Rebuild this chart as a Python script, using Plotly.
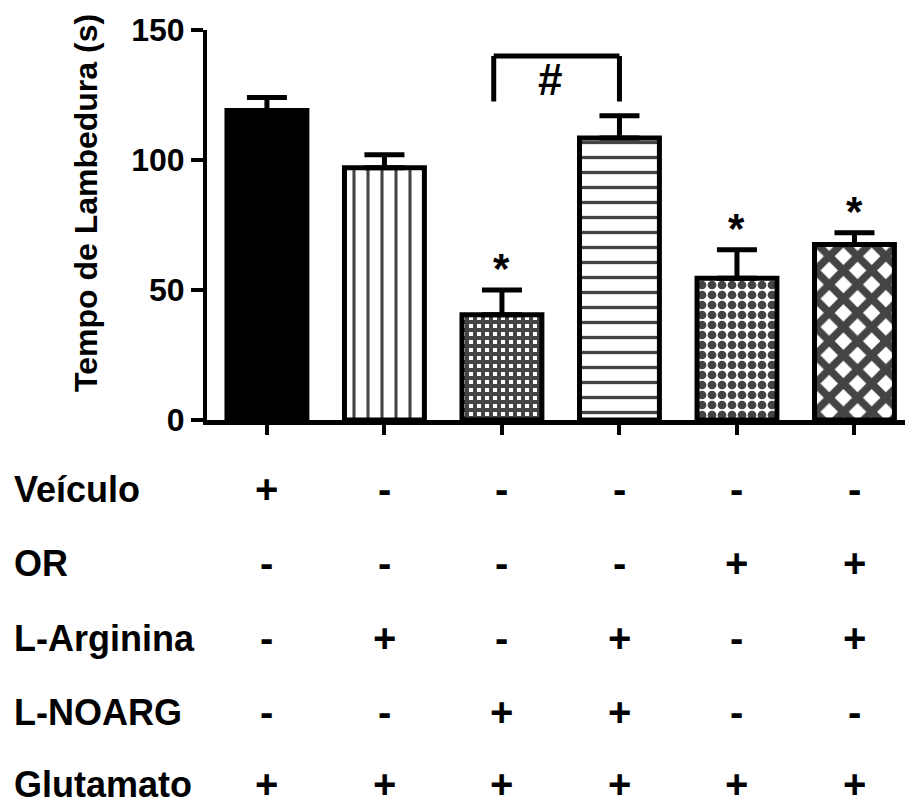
import plotly.graph_objects as go

groups = ["G1", "G2", "G3", "G4", "G5", "G6"]
means = [119, 97, 40.5, 108.5, 54.5, 67.5]
sems = [5, 5, 9.5, 8.5, 11, 4.5]
stars = ["", "", "*", "", "*", "*"]

row_labels = ["Veículo", "OR", "L-Arginina", "L-NOARG", "Glutamato"]
row_signs = [
    ["+", "-", "-", "-", "-", "-"],
    ["-", "-", "-", "-", "+", "+"],
    ["-", "+", "-", "+", "-", "+"],
    ["-", "-", "+", "+", "-", "-"],
    ["+", "+", "+", "+", "+", "+"],
]

pattern_shapes = ["", "|", "+", "-", ".", "x"]
pattern_sizes = [8, 14, 8, 15, 10, 20]
pattern_solid = [0.3, 0.22, 0.75, 0.22, 0.6, 0.62]
fill_colors = ["black", "white", "white", "white", "white", "white"]

FONT = "Arial, Liberation Sans, sans-serif"

fig = go.Figure()
fig.add_trace(go.Bar(
    x=list(range(len(groups))), y=means, width=0.68,
    marker=dict(
        color=fill_colors,
        line=dict(color="black", width=5),
        pattern=dict(shape=pattern_shapes, size=pattern_sizes, solidity=pattern_solid,
                     fgcolor="black", fgopacity=1, fillmode="overlay"),
    ),
    error_y=dict(type="data", symmetric=False, array=sems, arrayminus=[0] * 6,
                 color="black", thickness=5, width=20),
    showlegend=False,
))

# plot area geometry (pixels)
plot_top, plot_bottom = 30, 420
plot_h = plot_bottom - plot_top
plot_left, plot_right = 207, 905
plot_w = plot_right - plot_left

ann = []
for i, s in enumerate(stars):
    if s:
        ann.append(dict(x=i, y=means[i] + sems[i], xref="x", yref="y", text=s,
                        showarrow=False, yanchor="bottom", yshift=-4,
                        font=dict(family=FONT, size=42, color="black", weight="bold")))

# bracket between group 3 and 4
br_left, br_right, br_top, br_bot = 1.93, 3.0, 140, 122.5
for (x0, x1, y0, y1) in [(br_left, br_left, br_bot, br_top),
                         (br_left, br_right, br_top, br_top),
                         (br_right, br_right, br_bot, br_top)]:
    fig.add_shape(type="line", x0=x0, x1=x1, y0=y0, y1=y1, xref="x", yref="y",
                  line=dict(color="black", width=5))
ann.append(dict(x=(br_left + br_right) / 2 - 0.06, y=131, xref="x", yref="y", text="#",
                showarrow=False, font=dict(family=FONT, size=44, color="black", weight="bold")))

# y-axis title
ann.append(dict(x=(86 - plot_left) / plot_w, y=(plot_bottom - 203) / plot_h, xref="paper", yref="paper",
                text="Tempo de Lambedura (s)", textangle=-90, showarrow=False,
                xanchor="center", yanchor="middle",
                font=dict(family=FONT, size=32, color="black", weight="bold")))

# table below
row_py = [489, 563, 638, 712, 784]
for r, lab in enumerate(row_labels):
    yp = (plot_bottom - row_py[r]) / plot_h
    ann.append(dict(x=(12 - plot_left) / plot_w, y=yp, xref="paper", yref="paper", text=lab,
                    showarrow=False, xanchor="left", yanchor="middle",
                    font=dict(family=FONT, size=36, color="black", weight="bold")))
    for i, sg in enumerate(row_signs[r]):
        ann.append(dict(x=i, y=yp, xref="x", yref="paper", text=sg, showarrow=False,
                        xanchor="center", yanchor="middle",
                        font=dict(family=FONT, size=40, color="black", weight="bold")))

fig.update_layout(
    width=907, height=805,
    margin=dict(l=plot_left, r=907 - plot_right, t=plot_top, b=805 - plot_bottom, pad=0),
    plot_bgcolor="white", paper_bgcolor="white",
    annotations=ann,
    bargap=0.3,
)
fig.update_xaxes(range=[-0.51, 5.43], showgrid=False, zeroline=False, showline=True,
                 linecolor="black", linewidth=5, ticks="outside", ticklen=10, tickwidth=4,
                 tickcolor="black", tickvals=list(range(6)), showticklabels=False)
fig.update_yaxes(range=[0, 150], showgrid=False, zeroline=False, showline=True,
                 linecolor="black", linewidth=4, ticks="outside", ticklen=12, tickwidth=4,
                 tickcolor="black", tickvals=[0, 50, 100, 150],
                 tickfont=dict(family=FONT, size=32, color="black", weight="bold"))

fig.write_html("out.html")
